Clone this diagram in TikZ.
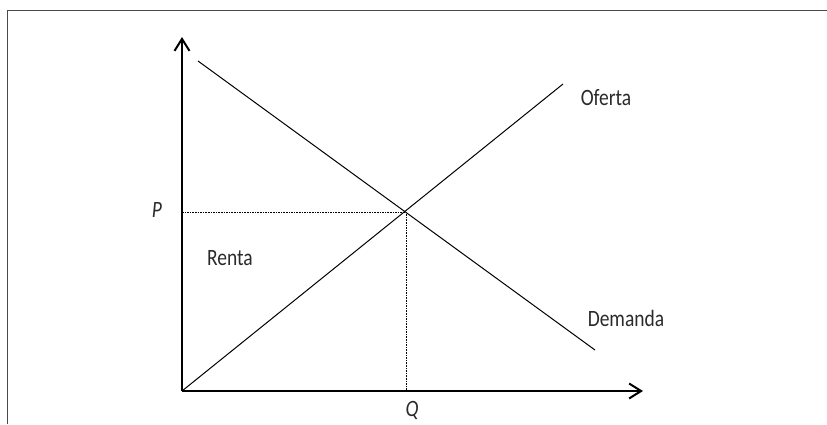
\documentclass[tikz,border=0pt]{standalone}
\usepackage{fontspec}
\usepackage{graphicx}
\setmainfont{Carlito}
\usetikzlibrary{arrows.meta}
\definecolor{txt}{HTML}{2A2A2A}
\definecolor{frame}{HTML}{4A4A4A}
\newcommand{\tall}[1]{\scalebox{1}[1.2]{#1}}
\tikzset{
  axis/.style={line width=1.3pt, -{Straight Barb[length=12pt,width=15pt,line width=2pt]}},
  curve/.style={line width=1pt, black},
  guide/.style={line width=0.9pt, dash pattern=on 1.6pt off 1pt, black},
  lbl/.style={font=\fontsize{19.5}{22}\selectfont, text=txt, inner sep=0pt},
  framestyle/.style={line width=1.5pt, frame}
}
\begin{document}
\begin{tikzpicture}[x=1pt,y=-1pt]
\useasboundingbox (0,0) rectangle (827,424);
\draw[framestyle] (7.5,424) -- (7.5,10.5) -- (827,10.5);
\coordinate (O) at (182,391);
\coordinate (ytop) at (182,37);
\coordinate (xend) at (643,391);
\coordinate (dA) at (198,61);
\coordinate (dB) at (595,350);
\coordinate (sB) at (563,84);
\coordinate (E) at (406,212);
\coordinate (Py) at (182,212);
\coordinate (Qx) at (406,391);
\draw[axis] (O) -- (ytop);
\draw[axis] (O) -- (xend);
\draw[curve] (dA) -- (dB);
\draw[curve] (O) -- (sB);
\draw[guide] (Py) -- (E) -- (Qx);
\node[lbl] (P) at (157,210) {\tall{\itshape P}};
\node[lbl] (Q) at (412,410) {\tall{\itshape Q}};
\node[lbl] (renta) at (230,258) {\tall{Renta}};
\node[lbl] (oferta) at (606,98) {\tall{Oferta}};
\node[lbl] (demanda) at (626,318) {\tall{Demanda}};
\end{tikzpicture}
\end{document}
